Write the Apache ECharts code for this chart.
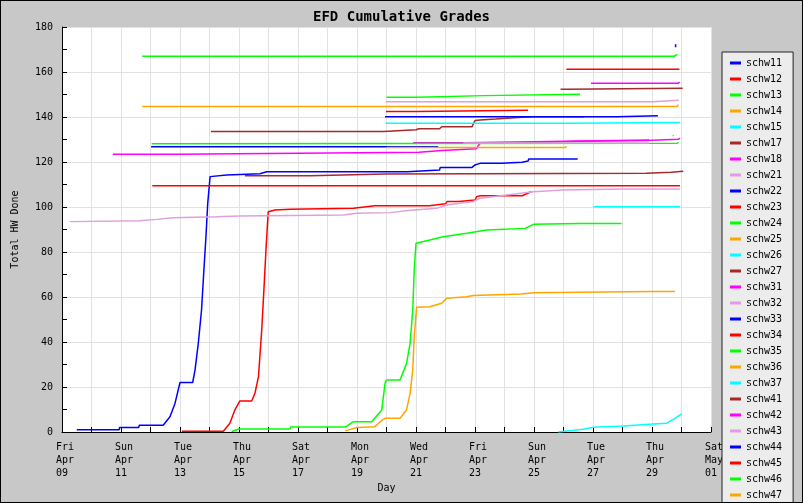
<!DOCTYPE html>
<html>
<head>
<meta charset="utf-8">
<script src="https://cdn.jsdelivr.net/npm/echarts@6/dist/echarts.min.js"></script>
<style>
body{margin:0;background:#fff;}
#main{width:801px;height:501px;border:1px solid #000;}
</style>
</head>
<body>
<div id="main"></div>
<script>
// x = days since Fri Apr 09, y = total HW done
var dayNames = ['Fri','Sun','Tue','Thu','Sat','Mon','Wed','Fri','Sun','Tue','Thu','Sat'];
var monthNames = ['Apr','Apr','Apr','Apr','Apr','Apr','Apr','Apr','Apr','Apr','Apr','May'];
var dayNums = ['09','11','13','15','17','19','21','23','25','27','29','01'];

var names = ['schw11','schw12','schw13','schw14','schw15','schw17','schw18','schw21',
  'schw22','schw23','schw24','schw25','schw26','schw27','schw31','schw32',
  'schw33','schw34','schw35','schw36','schw37','schw41','schw42','schw43',
  'schw44','schw45','schw46','schw47'];

var schw11 = [[0.5,1],[1.94,1],[1.95,2],[2.6,2],[2.62,3],[3.43,3],[3.66,6.8],[3.83,12.7],[4.0,22],[4.43,22],
  [4.51,27.6],[4.62,39.4],[4.73,54.2],[4.81,72],[4.88,86.8],[4.94,101.6],[5.02,113.5],[5.58,114.2],[6.71,114.8],
  [6.94,115.7],[11.7,115.7],[11.72,116.4],[12.8,116.4],[12.82,117.6],[13.9,117.6],[14.0,118.7],[14.17,119.4],
  [14.9,119.4],[14.92,119.9],[15.6,119.9],[15.62,120.4],[15.8,120.4],[15.82,121.3],[17.48,121.3]];
var schw12 = [[4.06,0.3],[5.47,0.3],[5.69,3.9],[5.86,9.8],[6.03,13.8],[6.43,13.8],[6.54,17.2],[6.66,24.6],
  [6.77,45.3],[6.85,64.6],[6.92,82.4],[6.99,97.9],[7.22,98.7],[7.73,99],[9.88,99.4],[10.6,100.6],[12.45,100.6],
  [12.5,101.4],[13.0,101.4],[13.05,102.4],[13.45,102.4],[13.5,103.1],[14.0,103.1],[14.06,104.6],[14.17,105],
  [15.6,105],[15.65,105.8],[15.9,106.8]];
var schw13 = [[5.75,0.2],[6.0,1.3],[7.73,1.3],[7.75,2.2],[9.6,2.2],[9.88,4.6],[10.5,4.6],[10.84,9.8],[10.95,21.6],
  [11.0,23.1],[11.46,23.1],[11.68,30.5],[11.8,39.4],[11.89,54.2],[11.94,72],[12.0,83.9],[12.47,85.3],[12.92,86.8],
  [13.72,88.3],[14.4,89.8],[15.7,90.5],[15.98,92.3],[17.56,92.7],[18.97,92.7]];
var schw14 = [[9.6,0.5],[9.99,2.0],[10.6,2.3],[10.84,5.2],[10.95,6.1],[11.46,6.1],[11.68,9.8],[11.8,17.2],
  [11.89,27.6],[11.94,42.4],[12.02,55.4],[12.47,55.7],[12.87,57.2],[13.04,59.4],[13.72,60.1],[13.94,60.7],
  [15.58,61.3],[15.98,61.9],[19.93,62.4],[20.78,62.4]];
var schw15 = [[16.82,0],[17.67,1.2],[18.01,2.1],[19.03,2.7],[20.04,3.6],[20.5,3.9],[20.78,6.1],[21.0,8.0]];
var schw17 = [[5.05,133.6],[10.9,133.6],[10.95,134.3],[12.0,134.3],[12.1,134.8],[12.8,134.8],[12.87,135.7],
  [13.9,135.7],[14.0,138.4],[14.17,138.7],[14.7,139.1],[15.6,139.9],[16.0,140.1],[17.7,140.1]];
var schw18 = [[1.72,123.4],[3.86,123.4],[3.9,124.1],[12.1,124.3],[12.15,125.1],[12.87,125.1],[12.9,125.9],
  [14.05,125.9],[14.1,127.1],[14.2,128.6],[15.97,128.6],[16.0,129.2],[17.45,129.2],[17.5,129.6],[19.8,129.6],
  [19.85,129.9],[20.9,130.1],[20.95,130.6]];
var schw21 = [[0.27,93.5],[2.64,93.9],[3.21,94.5],[3.77,95.2],[5.24,95.7],[6.03,96],[9.54,96.4],[9.99,97.2],
  [11.12,97.5],[11.74,98.4],[12.7,99.4],[13.04,100.9],[13.94,102.4],[14.17,103.9],[15.98,106.8],[16.99,107.6],
  [19.03,108],[20.95,108]];
var schw22 = [[3.02,126.8],[12.75,126.8]];
var schw23 = [[3.06,109.5],[20.95,109.5]];
var schw24 = [[2.72,167],[20.75,167],[20.85,167.8]];
var schw25 = [[2.72,144.7],[20.85,144.7],[20.9,145.5]];
var schw26 = [[10.97,137.2],[17.1,137.2],[17.15,137.6],[20.95,137.6]];
var schw27 = [[6.2,113.9],[8.4,113.9],[8.45,114.7],[10.95,114.7],[11.0,115],[19.8,115],[19.85,115.4],
  [20.65,115.4],[20.7,115.9],[21.06,115.9]];
var schw31 = [[11.9,128.6],[13.6,128.6],[13.65,129],[15.95,129],[16.0,129.8],[19.9,129.8]];
var schw32 = [[10.97,146.8],[20.04,146.8],[20.08,147.4],[20.9,147.4]];
var schw33 = [[10.95,140.1],[18.8,140.1],[18.85,140.6],[20.2,140.6]];
var schw34 = [[10.98,142.4],[12.0,142.4],[12.05,143],[15.8,143]];
var schw35 = [[3.04,128.1],[20.85,128.3],[20.9,128.7]];
var schw36 = [[11.0,126.4],[17.05,126.4],[17.1,127]];
var schw37 = [[18.01,100.1],[20.95,100.1]];
var schw41 = [[16.9,152.3],[17.1,152.3],[17.12,152.8],[21.04,152.8]];
var schw42 = [[17.93,155],[20.9,155],[20.93,155.6]];
var schw43 = [[13.6,128.4],[19.9,128.4]];
var schw44 = [[20.8,171],[20.8,172.3]];
var schw45 = [[17.1,161.2],[20.93,161.2]];
var schw46 = [[11.0,148.8],[12.05,148.8],[12.1,149.5],[14.3,149.5],[14.34,150.1],[17.56,150.1]];
var schw47 = [[20.72,131.4],[20.72,132]];

var allData = [schw11,schw12,schw13,schw14,schw15,schw17,schw18,schw21,
  schw22,schw23,schw24,schw25,schw26,schw27,schw31,schw32,
  schw33,schw34,schw35,schw36,schw37,schw41,schw42,schw43,
  schw44,schw45,schw46,schw47];

var palette = ['#0000ff','#ff0000','#00ff00','#ffa500','#00ffff','#a52a2a','#ff00ff','#dda0dd'];
var mono = 'DejaVu Sans Mono';

var series = [];
for (var i = 0; i < names.length; i++) {
  series.push({
    name: names[i],
    type: 'line',
    data: allData[i],
    showSymbol: false,
    lineStyle: {width: 1.5},
    color: palette[i % palette.length]
  });
}

var myChart = echarts.init(document.getElementById('main'));
myChart.setOption({
  animation: false,
  backgroundColor: '#c8c8c8',
  title: {
    text: 'EFD Cumulative Grades',
    left: 'center',
    top: 4,
    textStyle: {fontFamily: mono, fontSize: 14, fontWeight: 'bold', color: '#000'}
  },
  legend: {
    data: names,
    orient: 'vertical',
    left: 721,
    top: 51,
    height: 1000,
    icon: 'rect',
    itemWidth: 11,
    itemHeight: 3,
    itemGap: 0,
    selectedMode: false,
    backgroundColor: '#ececec',
    borderColor: '#222',
    borderWidth: 1,
    padding: [3, 11, 3, 8],
    textStyle: {fontFamily: mono, fontSize: 10, lineHeight: 16, color: '#000'}
  },
  grid: {
    left: 61, top: 26, right: 91, bottom: 70,
    show: true, backgroundColor: '#fff', borderWidth: 0
  },
  xAxis: {
    type: 'value',
    min: 0, max: 22, interval: 1,
    name: 'Day',
    nameLocation: 'middle',
    nameGap: 47,
    nameTextStyle: {fontFamily: mono, fontSize: 10, color: '#000'},
    axisLine: {lineStyle: {color: '#000'}},
    axisTick: {inside: true, length: 5, lineStyle: {color: '#000'}},
    splitLine: {lineStyle: {color: '#e2e2e2'}},
    axisLabel: {
      margin: 9,
      showMaxLabel: true,
      formatter: function (v) {
        var d = Math.round(v);
        if (d % 2) return '';
        var k = d / 2;
        return '{t|' + dayNames[k] + '}\n{t|' + monthNames[k] + '}\n{t|' + dayNums[k] + '}';
      },
      rich: {t: {width: 12, align: 'left', fontFamily: mono, fontSize: 10, lineHeight: 13, color: '#000'}}
    }
  },
  yAxis: {
    type: 'value',
    min: 0, max: 180, interval: 20,
    name: 'Total HW Done',
    nameLocation: 'middle',
    nameGap: 42,
    nameTextStyle: {fontFamily: mono, fontSize: 10, color: '#000'},
    axisLine: {show: true, lineStyle: {color: '#000'}},
    axisTick: {show: true, inside: true, length: 5, lineStyle: {color: '#000'}},
    minorTick: {show: true, splitNumber: 2, length: 5, lineStyle: {color: '#000'}},
    splitLine: {lineStyle: {color: '#e2e2e2'}},
    axisLabel: {margin: 9, fontFamily: mono, fontSize: 10, color: '#000'}
  },
  series: series
});
</script>
</body>
</html>
